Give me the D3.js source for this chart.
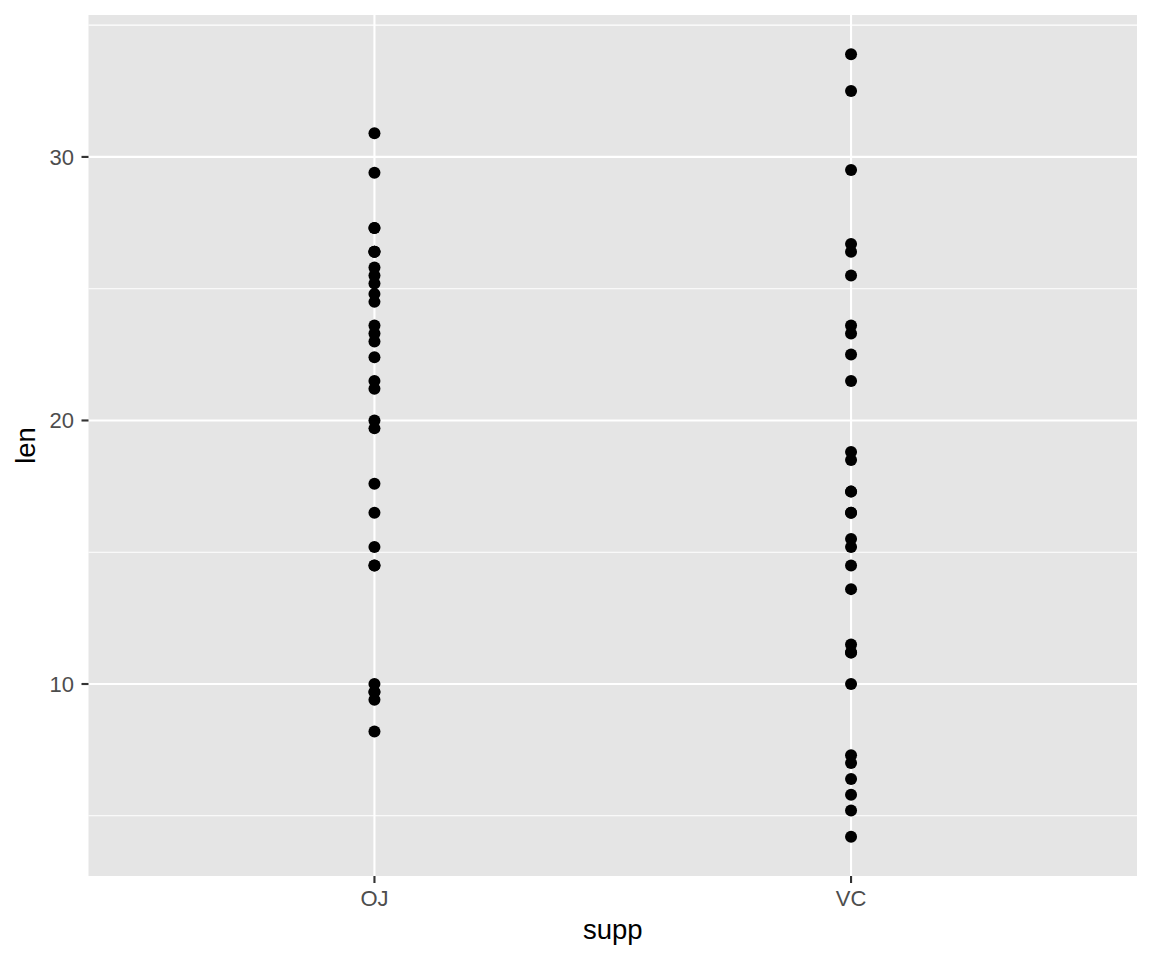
<!DOCTYPE html>
<html>
<head>
<meta charset="utf-8">
<script src="https://cdn.jsdelivr.net/npm/d3@7"></script>
<style>
  body { margin: 0; background: #fff; }
  svg text { font-family: "Liberation Sans", Arial, sans-serif; }
</style>
</head>
<body>
<svg id="chart" width="1152" height="960"></svg>
<script>
// ToothGrowth: len by supp
const supps = ["OJ", "VC"];
const ojLen = [15.2, 21.5, 17.6, 9.7, 14.5, 10, 8.2, 9.4, 16.5, 9.7,
               19.7, 23.3, 23.6, 26.4, 20, 25.2, 25.8, 21.2, 14.5, 27.3,
               25.5, 26.4, 22.4, 24.5, 24.8, 30.9, 26.4, 27.3, 29.4, 23];
const vcLen = [4.2, 11.5, 7.3, 5.8, 6.4, 10, 11.2, 11.2, 5.2, 7,
               16.5, 16.5, 15.2, 17.3, 22.5, 17.3, 13.6, 14.5, 18.8, 15.5,
               23.6, 18.5, 33.9, 25.5, 26.4, 32.5, 26.7, 21.5, 23.3, 29.5];
const yTicks = [10, 20, 30];
const yMinor = [5, 15, 25, 35];

const points = ojLen.map(v => ({supp: "OJ", len: v}))
    .concat(vcLen.map(v => ({supp: "VC", len: v})));

const svg = d3.select("#chart");
const panel = {left: 88.5, right: 1137, top: 15, bottom: 876};

const allLen = ojLen.concat(vcLen);
const lo = d3.min(allLen), hi = d3.max(allLen);
const pad = (hi - lo) * 0.05;
const y = d3.scaleLinear().domain([lo - pad, hi + pad]).range([panel.bottom, panel.top]);

// discrete scale with 0.6 expansion each side
const xc = d3.scaleLinear().domain([0.4, supps.length + 0.6]).range([panel.left, panel.right]);
const x = s => xc(supps.indexOf(s) + 1);

svg.append("rect")
    .attr("x", panel.left).attr("y", panel.top)
    .attr("width", panel.right - panel.left).attr("height", panel.bottom - panel.top)
    .attr("fill", "#e5e5e5");

svg.append("g").selectAll("line").data(yMinor).join("line")
    .attr("x1", panel.left).attr("x2", panel.right)
    .attr("y1", d => y(d)).attr("y2", d => y(d))
    .attr("stroke", "#fff").attr("stroke-width", 1.07);

svg.append("g").selectAll("line").data(yTicks).join("line")
    .attr("x1", panel.left).attr("x2", panel.right)
    .attr("y1", d => y(d)).attr("y2", d => y(d))
    .attr("stroke", "#fff").attr("stroke-width", 2.13);

svg.append("g").selectAll("line").data(supps).join("line")
    .attr("x1", d => x(d)).attr("x2", d => x(d))
    .attr("y1", panel.top).attr("y2", panel.bottom)
    .attr("stroke", "#fff").attr("stroke-width", 2.13);

svg.append("g").selectAll("circle").data(points).join("circle")
    .attr("cx", d => x(d.supp)).attr("cy", d => y(d.len))
    .attr("r", 6).attr("fill", "#000");

// y axis
const ya = svg.append("g");
ya.selectAll("line").data(yTicks).join("line")
    .attr("x1", panel.left - 7).attr("x2", panel.left)
    .attr("y1", d => y(d)).attr("y2", d => y(d))
    .attr("stroke", "#333").attr("stroke-width", 2.13);
ya.selectAll("text").data(yTicks).join("text")
    .attr("x", 74).attr("y", d => y(d))
    .attr("dy", "0.36em").attr("text-anchor", "end")
    .attr("font-size", 22).attr("fill", "#4d4d4d")
    .text(d => d);

// x axis
const xa = svg.append("g");
xa.selectAll("line").data(supps).join("line")
    .attr("x1", d => x(d)).attr("x2", d => x(d))
    .attr("y1", panel.bottom).attr("y2", panel.bottom + 7)
    .attr("stroke", "#333").attr("stroke-width", 2.13);
xa.selectAll("text").data(supps).join("text")
    .attr("x", d => x(d)).attr("y", 906)
    .attr("text-anchor", "middle")
    .attr("font-size", 22).attr("fill", "#4d4d4d")
    .text(d => d);

svg.append("text")
    .attr("x", (panel.left + panel.right) / 2).attr("y", 939)
    .attr("text-anchor", "middle").attr("font-size", 27.5).attr("fill", "#000")
    .text("supp");

svg.append("text")
    .attr("transform", `translate(35,${(panel.top + panel.bottom) / 2}) rotate(-90)`)
    .attr("text-anchor", "middle").attr("font-size", 27.5).attr("fill", "#000")
    .text("len");
</script>
</body>
</html>
